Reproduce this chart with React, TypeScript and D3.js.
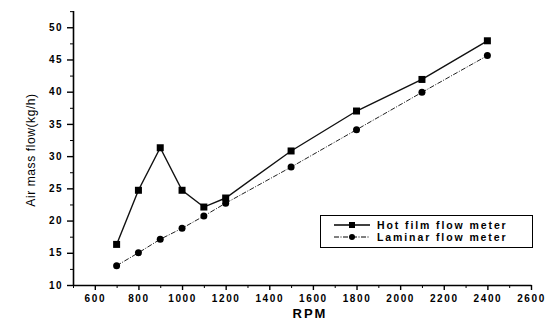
import React, { useEffect, useRef } from "react";
import * as d3 from "d3";

const rpm = [700, 800, 900, 1000, 1100, 1200, 1500, 1800, 2100, 2400];
const hotFilm = [16.3, 24.7, 31.3, 24.7, 22.1, 23.5, 30.8, 37.0, 41.9, 47.9];
const laminar = [13.0, 15.0, 17.1, 18.8, 20.7, 22.7, 28.3, 34.1, 39.9, 45.6];
const xTicks = [600, 800, 1000, 1200, 1400, 1600, 1800, 2000, 2200, 2400, 2600];
const yTicks = [10, 15, 20, 25, 30, 35, 40, 45, 50];
const seriesNames = ["Hot film flow meter", "Laminar flow meter"];

const W = 550;
const H = 327;
const FONT = "'Liberation Sans', Arial, sans-serif";

export default function App() {
  const ref = useRef<SVGSVGElement>(null);

  useEffect(() => {
    const svg = d3.select(ref.current);
    svg.selectAll("*").remove();

    const x = d3.scaleLinear().domain([500, 2600]).range([73, 531]);
    const y = d3.scaleLinear().domain([10, 52.6]).range([285, 10.5]);

    // minor ticks
    const xMinor = d3.range(500, 2601, 100).filter((v) => v % 200 !== 0);
    const yMinor = d3.range(12.5, 52.6, 5);

    const xAxis = svg
      .append("g")
      .attr("transform", "translate(0,285)")
      .call(
        d3
          .axisBottom(x)
          .tickValues(xTicks)
          .tickFormat(d3.format("d"))
          .tickSize(5)
          .tickSizeOuter(0)
          .tickPadding(5)
      );
    xAxis
      .selectAll("text")
      .attr("font-family", FONT)
      .attr("font-size", 10)
      .attr("font-weight", "bold")
      .attr("letter-spacing", 1.6)
      .attr("fill", "#000");
    xAxis.select(".domain").attr("stroke-width", 1.6);
    xAxis.selectAll(".tick line").attr("stroke-width", 1.4);

    svg
      .append("g")
      .attr("transform", "translate(0,285)")
      .call(d3.axisBottom(x).tickValues(xMinor).tickSize(3).tickSizeOuter(0).tickFormat(() => ""))
      .call((g) => g.select(".domain").remove());

    const yAxis = svg
      .append("g")
      .attr("transform", "translate(73,0)")
      .call(
        d3
          .axisLeft(y)
          .tickValues(yTicks)
          .tickFormat(d3.format("d"))
          .tickSize(6)
          .tickSizeOuter(0)
          .tickPadding(4)
      );
    yAxis
      .selectAll("text")
      .attr("font-family", FONT)
      .attr("font-size", 10)
      .attr("font-weight", "bold")
      .attr("letter-spacing", 1.4)
      .attr("fill", "#000");
    yAxis.select(".domain").attr("stroke-width", 1.6);
    yAxis.selectAll(".tick line").attr("stroke-width", 1.4);

    svg
      .append("g")
      .attr("transform", "translate(73,0)")
      .call(d3.axisLeft(y).tickValues(yMinor).tickSize(3).tickSizeOuter(0).tickFormat(() => ""))
      .call((g) => g.select(".domain").remove());

    // axis titles
    svg
      .append("text")
      .attr("x", 310)
      .attr("y", 318)
      .attr("text-anchor", "middle")
      .attr("font-family", FONT)
      .attr("font-size", 13)
      .attr("font-weight", "bold")
      .attr("letter-spacing", 2)
      .text("RPM");

    svg
      .append("text")
      .attr("transform", "translate(35,150) rotate(-90)")
      .attr("text-anchor", "middle")
      .attr("font-family", FONT)
      .attr("font-size", 12)
      .attr("letter-spacing", 0.6)
      .text("Air mass flow(kg/h)");

    const line = d3
      .line<number>()
      .x((_, i) => x(rpm[i]))
      .y((d) => y(d));

    svg
      .append("path")
      .datum(hotFilm)
      .attr("d", line)
      .attr("fill", "none")
      .attr("stroke", "#111")
      .attr("stroke-width", 1.4);

    svg
      .append("path")
      .datum(laminar)
      .attr("d", line)
      .attr("fill", "none")
      .attr("stroke", "#222")
      .attr("stroke-width", 1)
      .attr("stroke-dasharray", "5,1.5,1,1.5");

    svg
      .selectAll(".sq")
      .data(hotFilm)
      .enter()
      .append("rect")
      .attr("x", (_, i) => x(rpm[i]) - 3.5)
      .attr("y", (d) => y(d) - 3.5)
      .attr("width", 7)
      .attr("height", 7)
      .attr("fill", "#000");

    svg
      .selectAll(".ci")
      .data(laminar)
      .enter()
      .append("circle")
      .attr("cx", (_, i) => x(rpm[i]))
      .attr("cy", (d) => y(d))
      .attr("r", 3.5)
      .attr("fill", "#000");

    // legend
    const lg = svg.append("g");
    lg.append("rect")
      .attr("x", 320.5)
      .attr("y", 215.5)
      .attr("width", 212)
      .attr("height", 32)
      .attr("fill", "#fff")
      .attr("stroke", "#000")
      .attr("stroke-width", 1);

    seriesNames.forEach((name, i) => {
      const cy = 225 + i * 12;
      lg.append("line")
        .attr("x1", 334)
        .attr("x2", 370)
        .attr("y1", cy)
        .attr("y2", cy)
        .attr("stroke", "#000")
        .attr("stroke-width", i === 0 ? 1.4 : 1)
        .attr("stroke-dasharray", i === 0 ? null : "5,1.5,1,1.5");
      if (i === 0) {
        lg.append("rect")
          .attr("x", 349)
          .attr("y", cy - 3)
          .attr("width", 6)
          .attr("height", 6)
          .attr("fill", "#000");
      } else {
        lg.append("circle").attr("cx", 352).attr("cy", cy).attr("r", 3).attr("fill", "#000");
      }
      lg.append("text")
        .attr("x", 377)
        .attr("y", cy + 4)
        .attr("font-family", FONT)
        .attr("font-size", 10.5)
        .attr("font-weight", "bold")
        .attr("letter-spacing", 1.9)
        .text(name);
    });
  }, []);

  return (
    <svg
      ref={ref}
      width={W}
      height={H}
      style={{ position: "absolute", left: 0, top: 0, background: "#fff" }}
    />
  );
}
